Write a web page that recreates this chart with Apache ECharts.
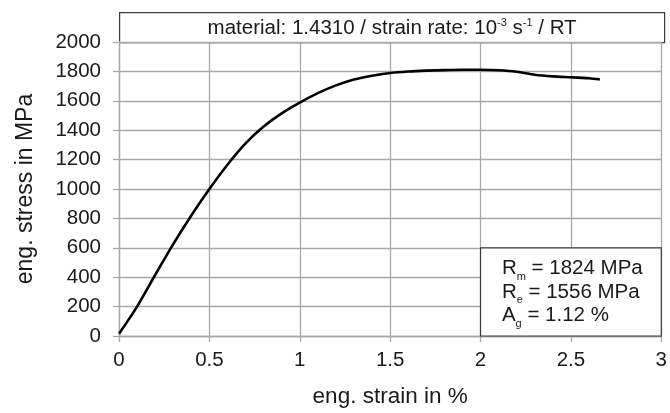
<!DOCTYPE html>
<html>
<head>
<meta charset="utf-8">
<script src="https://cdn.jsdelivr.net/npm/echarts@6/dist/echarts.min.js"></script>
<style>
  html, body { margin: 0; padding: 0; background: #fff; }
  #chart { width: 670px; height: 413px; }
</style>
</head>
<body>
<div id="chart"></div>
<script>
// ---- data ----
const strain = [0, 0.1, 0.2, 0.3, 0.4, 0.5, 0.6, 0.7, 0.8, 0.9, 1.0, 1.1, 1.2, 1.3, 1.4, 1.5, 1.6, 1.7, 1.8, 1.9, 2.0, 2.1, 2.2, 2.3, 2.4, 2.5, 2.6, 2.66];
const stress = [15, 200, 415, 625, 820, 1000, 1165, 1310, 1425, 1515, 1588, 1652, 1705, 1745, 1771, 1789, 1799, 1805, 1809, 1811, 1811, 1808, 1798, 1777, 1766, 1760, 1753, 1746];
const xTicks = [0, 0.5, 1, 1.5, 2, 2.5, 3];
const yTicks = [0, 200, 400, 600, 800, 1000, 1200, 1400, 1600, 1800, 2000];
const titleParts = ['material: 1.4310 / strain rate: 10', '-3', ' s', '-1', ' / RT'];
const annotLines = [['R', 'm', ' = 1824 MPa'], ['R', 'e', ' = 1556 MPa'], ['A', 'g', ' = 1.12 %']];
const annotBox = [[2, 600], [3, 0]];
const xName = 'eng. strain in %';
const yName = 'eng. stress in MPa';

// ---- layout ----
const W = 670, H = 413;
const GRID = { left: 119, right: 6, top: 42, bottom: 74 };
const TITLE_TOP = 12;
const FONT = "'Liberation Sans', Arial, sans-serif";
const GRIDC = '#a8a8a8';
const TXT = '#1a1a1a';
const BOX = '#3a3a3a';

const chart = echarts.init(document.getElementById('chart'), null, { renderer: 'canvas' });

const data = strain.map((x, i) => [x, stress[i]]);

const titleText = '{t|' + titleParts[0] + '}{sup|' + titleParts[1] + '}{t|' + titleParts[2] + '}{sup|' + titleParts[3] + '}{t|' + titleParts[4] + '}';
const annotText = annotLines.map(l => '{t|' + l[0] + '}{s|' + l[1] + '}{t|' + l[2] + '}').join('\n');

chart.setOption({
  animation: false,
  backgroundColor: '#fff',
  grid: { left: GRID.left, right: GRID.right, top: GRID.top, bottom: GRID.bottom, containLabel: false },
  xAxis: {
    type: 'value',
    min: xTicks[0], max: xTicks[xTicks.length - 1], interval: xTicks[1] - xTicks[0],
    name: xName, nameLocation: 'middle', nameGap: 49,
    nameTextStyle: { fontFamily: FONT, fontSize: 22.5, color: TXT },
    axisLine: { show: true, lineStyle: { color: GRIDC, width: 1.3 } },
    axisTick: { show: true, length: 6, lineStyle: { color: GRIDC, width: 1.3 } },
    axisLabel: { fontFamily: FONT, fontSize: 20.5, color: TXT, margin: 14, formatter: v => String(v) },
    splitLine: { show: true, lineStyle: { color: GRIDC, width: 1.3 } }
  },
  yAxis: {
    type: 'value',
    min: yTicks[0], max: yTicks[yTicks.length - 1], interval: yTicks[1] - yTicks[0],
    name: yName, nameLocation: 'middle', nameGap: 82,
    nameTextStyle: { fontFamily: FONT, fontSize: 23, color: TXT },
    axisLine: { show: true, lineStyle: { color: GRIDC, width: 1.3 } },
    axisTick: { show: true, length: 6, lineStyle: { color: GRIDC, width: 1.3 } },
    axisLabel: { fontFamily: FONT, fontSize: 20.5, color: TXT, margin: 18, formatter: v => String(v) },
    splitLine: { show: true, lineStyle: { color: GRIDC, width: 1.3 } }
  },
  series: [{
    type: 'line',
    data: data,
    smooth: 0.25,
    showSymbol: false,
    symbol: 'none',
    lineStyle: { color: '#000', width: 2.6 },
    markArea: {
      silent: true,
      itemStyle: { color: '#fff', borderColor: BOX, borderWidth: 1.2 },
      label: {
        show: true,
        position: 'insideLeft',
        distance: 22,
        formatter: annotText,
        rich: {
          t: { fontFamily: FONT, fontSize: 20.5, color: TXT, lineHeight: 23.5 },
          s: { fontFamily: FONT, fontSize: 11, color: TXT, lineHeight: 23.5, padding: [17, 0, 0, 0] }
        }
      },
      data: [[{ coord: annotBox[0] }, { coord: annotBox[1] }]]
    }
  }],
  graphic: [{
    type: 'group',
    left: GRID.left,
    top: TITLE_TOP,
    children: [{
      type: 'rect',
      shape: { x: 0, y: 0, width: W - GRID.left - GRID.right, height: GRID.top - TITLE_TOP },
      style: { fill: '#fff', stroke: BOX, lineWidth: 1.2 }
    }, {
      type: 'text',
      x: (W - GRID.left - GRID.right) / 2,
      y: (GRID.top - TITLE_TOP) / 2 + 1,
      style: {
        text: titleText,
        align: 'center',
        verticalAlign: 'middle',
        rich: {
          t: { fontFamily: FONT, fontSize: 20.5, fill: TXT, lineHeight: 24 },
          sup: { fontFamily: FONT, fontSize: 11, fill: TXT, lineHeight: 24, padding: [0, 0, 12, 0] }
        }
      }
    }]
  }]
});
</script>
</body>
</html>
